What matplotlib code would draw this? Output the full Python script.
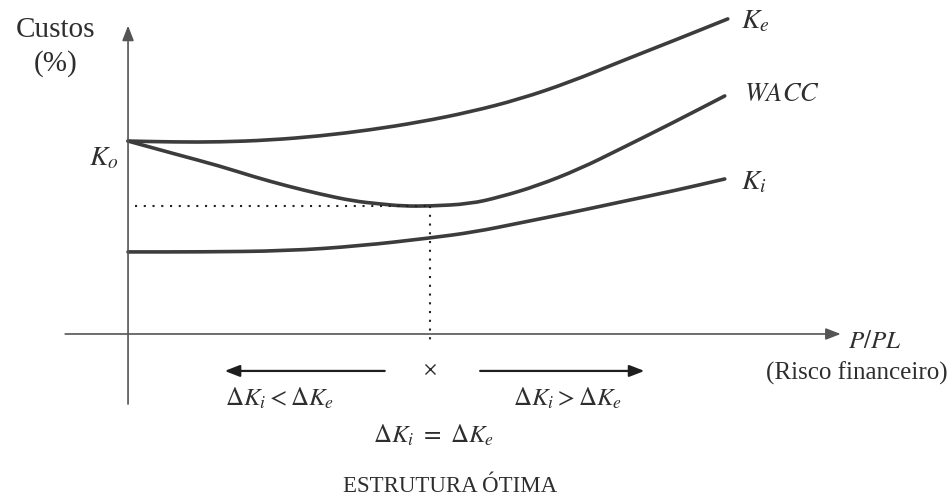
import numpy as np
import matplotlib
matplotlib.use("Agg")
import matplotlib.pyplot as plt
from matplotlib.path import Path
from matplotlib.patches import PathPatch

plt.rcParams['font.family'] = ['Liberation Serif', 'DejaVu Serif']
plt.rcParams['mathtext.fontset'] = 'stix'

# --- DATA (x = P/PL, y = custo %) ---
ke_x = [0.0, 0.78, 1.52, 2.35, 3.18, 4.0, 4.83, 5.66, 6.49, 7.32, 8.15, 9.06, 9.93]
ke_y = [8.04, 8.0, 8.0, 8.08, 8.25, 8.5, 8.83, 9.25, 9.79, 10.5, 11.35, 12.25, 13.13]

wacc_x = [0.0, 0.78, 1.52, 2.1, 2.63, 3.18, 3.73, 4.17, 4.55, 5.0, 5.66, 6.16,
          6.77, 7.48, 8.15, 8.98, 9.88]
wacc_y = [8.04, 7.5, 7.0, 6.54, 6.17, 5.83, 5.54, 5.42, 5.33, 5.33, 5.42, 5.71,
          6.17, 6.88, 7.71, 8.75, 9.92]

ki_x = [0.0, 1.19, 2.63, 3.84, 5.0, 5.74, 6.49, 7.32, 8.15, 9.06, 9.88]
ki_y = [3.42, 3.42, 3.46, 3.67, 4.0, 4.25, 4.63, 5.05, 5.5, 5.98, 6.46]

opt_x = 5.0        # estrutura otima
wacc_min = 5.33

LINE = '#3c3c3c'
AXIS = '#555555'
TXT = '#2e2e2e'


def smooth_curve(ax, xs, ys, **kw):
    """Draw the read points as a smooth curve (quadratic segments between midpoints)."""
    pts = np.column_stack((xs, ys))
    verts = [pts[0], (pts[0] + pts[1]) / 2]
    codes = [Path.MOVETO, Path.LINETO]
    for i in range(1, len(pts) - 1):
        verts += [pts[i], (pts[i] + pts[i + 1]) / 2]
        codes += [Path.CURVE3, Path.CURVE3]
    verts.append(pts[-1])
    codes.append(Path.LINETO)
    ax.add_patch(PathPatch(Path(verts, codes), fill=False, **kw))


fig = plt.figure(figsize=(9.47, 5.02), dpi=100)
ax = fig.add_axes([0, 0, 1, 1])
ax.set_xlim(-2.12, 13.56)
ax.set_ylim(-6.96, 13.96)
ax.axis('off')

# axes with arrows
arrow_ax = dict(arrowstyle='-|>,head_length=0.9,head_width=0.35',
                color=AXIS, lw=1.2, shrinkA=0, shrinkB=0)
ax.annotate('', xy=(0, 12.85), xytext=(0, -2.92), arrowprops=arrow_ax)
ax.annotate('', xy=(11.8, 0), xytext=(-1.04, 0), arrowprops=arrow_ax)

# curves
for xs, ys in [(ke_x, ke_y), (wacc_x, wacc_y), (ki_x, ki_y)]:
    smooth_curve(ax, xs, ys, edgecolor=LINE, lw=2.6, capstyle='round', joinstyle='round')

# dotted guides
ax.plot([0.12, opt_x], [wacc_min, wacc_min], color='#222222', lw=1.5,
        linestyle=(0, (1, 3.2)))
ax.plot([opt_x, opt_x], [wacc_min, -0.42], color='#222222', lw=1.5,
        linestyle=(0, (1, 3.2)))

# optimum marker and direction arrows
ax.plot([opt_x], [-1.46], marker='x', color=TXT, ms=7, mew=1.0)
arrow_dir = dict(arrowstyle='-|>,head_length=0.9,head_width=0.35',
                 color='#1e1e1e', lw=1.6, shrinkA=0, shrinkB=0)
ax.annotate('', xy=(1.6, -1.54), xytext=(4.25, -1.54), arrowprops=arrow_dir)
ax.annotate('', xy=(8.55, -1.54), xytext=(5.83, -1.54), arrowprops=arrow_dir)

# labels
ax.text(-1.2, 12.71, 'Custos', ha='center', va='center', fontsize=21, color=TXT)
ax.text(-1.2, 11.3, '(%)', ha='center', va='center', fontsize=21, color=TXT)
ax.text(-0.15, 7.35, r'$K_o$', ha='right', va='center', fontsize=20, color=TXT)
ax.text(10.15, 13.05, r'$K_e$', ha='left', va='center', fontsize=20, color=TXT)
ax.text(10.2, 10.0, r'$WACC$', ha='left', va='center', fontsize=19, color=TXT)
ax.text(10.15, 6.35, r'$K_i$', ha='left', va='center', fontsize=20, color=TXT)
ax.text(11.92, -0.3, r'$P/PL$', ha='left', va='center', fontsize=18, color=TXT)
ax.text(12.07, -1.58, '(Risco financeiro)', ha='center', va='center', fontsize=18, color=TXT)

ax.text(2.5, -2.62, r'$\Delta K_i < \Delta K_e$', ha='center', va='center',
        fontsize=18, color=TXT)
ax.text(7.28, -2.62, r'$\Delta K_i > \Delta K_e$', ha='center', va='center',
        fontsize=18, color=TXT)
ax.text(5.05, -4.17, r'$\Delta K_i\ =\ \Delta K_e$', ha='center', va='center',
        fontsize=18, color=TXT)

ax.text(5.33, -6.33, 'ESTRUTURA ÓTIMA', ha='center', va='center', fontsize=16.5, color=TXT)

fig.savefig('out.png', dpi=100, facecolor='white')
